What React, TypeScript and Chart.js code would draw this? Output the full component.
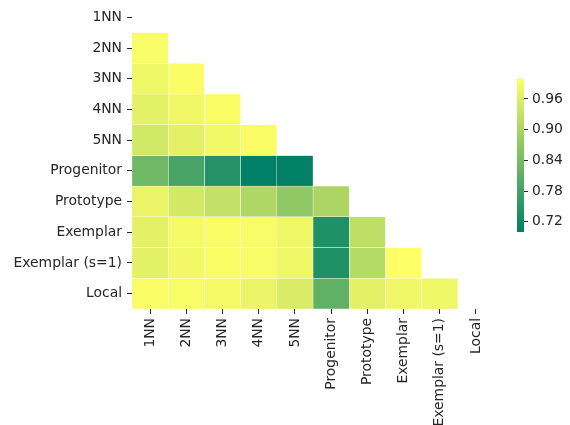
import React, { useEffect, useRef } from "react";
import { Chart, registerables } from "chart.js";
Chart.register(...registerables);

const labels = ["1NN", "2NN", "3NN", "4NN", "5NN", "Progenitor", "Prototype", "Exemplar", "Exemplar (s=1)", "Local"];
const row1NN: number[] = [];
const row2NN = [0.992];
const row3NN = [0.98, 0.996];
const row4NN = [0.966, 0.982, 0.994];
const row5NN = [0.945, 0.968, 0.985, 0.994];
const rowProgenitor = [0.832, 0.785, 0.742, 0.7, 0.701];
const rowPrototype = [0.975, 0.947, 0.929, 0.906, 0.871, 0.902];
const rowExemplar = [0.968, 0.988, 0.994, 0.992, 0.982, 0.738, 0.924];
const rowExemplarS1 = [0.966, 0.986, 0.994, 0.992, 0.982, 0.738, 0.914, 1.0];
const rowLocal = [0.994, 0.992, 0.987, 0.975, 0.956, 0.813, 0.968, 0.982, 0.98];
const colorTicks = [0.72, 0.78, 0.84, 0.9, 0.96];
const vMin = 0.7;
const vMax = 1.0;

const rows = [row1NN, row2NN, row3NN, row4NN, row5NN, rowProgenitor, rowPrototype, rowExemplar, rowExemplarS1, rowLocal];

const FONT = "'DejaVu Sans', sans-serif";
const TEXT = "#262626";
const FS = 13.9;

function summer(v: number): string {
  let t = (v - vMin) / (vMax - vMin);
  t = Math.max(0, Math.min(1, t));
  const r = Math.round(255 * t);
  const g = Math.round(127.5 + 127.5 * t);
  return `rgb(${r},${g},102)`;
}

export default function App() {
  const mainRef = useRef<HTMLCanvasElement>(null);
  const barRef = useRef<HTMLCanvasElement>(null);

  useEffect(() => {
    document.body.style.margin = "0";
    const datasets = labels.slice(0, labels.length - 1).map((_, j) => ({
      data: rows.map((row) => (j < row.length ? [j, j + 1] : null)) as any,
      backgroundColor: rows.map((row) => (j < row.length ? summer(row[j]) : "rgba(0,0,0,0)")),
      borderColor: "#ffffff",
      borderWidth: 0.5,
      borderSkipped: false as any,
      barPercentage: 1,
      categoryPercentage: 1,
      grouped: false,
    }));

    const main = new Chart(mainRef.current!, {
      type: "bar",
      data: { labels, datasets },
      options: {
        indexAxis: "y",
        animation: false,
        responsive: false,
        devicePixelRatio: 1,
        layout: { padding: { top: 2, right: 76, left: 0, bottom: 0 } },
        plugins: { legend: { display: false }, tooltip: { enabled: false } },
        scales: {
          x: {
            type: "linear",
            min: 0,
            max: 10,
            afterBuildTicks: (scale: any) => {
              scale.ticks = labels.map((_, i) => ({ value: i + 0.5 }));
            },
            afterFit: (scale: any) => {
              scale.height = 116;
              scale.paddingLeft = 0;
              scale.paddingRight = 0;
            },
            ticks: {
              autoSkip: false,
              minRotation: 90,
              maxRotation: 90,
              padding: 4,
              color: TEXT,
              font: { family: FONT, size: FS },
              callback: (v: any) => labels[Math.floor(Number(v))],
            },
            grid: { drawOnChartArea: false, drawTicks: true, tickLength: 5, color: TEXT, lineWidth: 1 },
            border: { display: false },
          },
          y: {
            type: "category",
            afterFit: (scale: any) => {
              scale.width = 132;
              scale.paddingTop = 0;
              scale.paddingBottom = 0;
            },
            ticks: {
              autoSkip: false,
              padding: 5,
              color: TEXT,
              font: { family: FONT, size: FS },
            },
            grid: { offset: false, drawOnChartArea: false, drawTicks: true, tickLength: 5, color: TEXT, lineWidth: 1 },
            border: { display: false },
          },
        },
      },
    });

    const bar = new Chart(barRef.current!, {
      type: "bar",
      data: {
        labels: ["cb"],
        datasets: [
          {
            data: [[vMin, vMax]] as any,
            backgroundColor: (ctx: any) => {
              const area = ctx.chart.chartArea;
              if (!area) return summer(0.85);
              const g = ctx.chart.ctx.createLinearGradient(0, area.bottom, 0, area.top);
              g.addColorStop(0, summer(vMin));
              g.addColorStop(1, summer(vMax));
              return g;
            },
            borderWidth: 0,
            barPercentage: 1,
            categoryPercentage: 1,
          },
        ],
      },
      options: {
        animation: false,
        responsive: false,
        devicePixelRatio: 1,
        layout: { padding: { left: 7, top: 8.5, bottom: 8, right: 0 } },
        plugins: { legend: { display: false }, tooltip: { enabled: false } },
        scales: {
          x: { display: false },
          y: {
            position: "right",
            min: vMin,
            max: vMax,
            afterBuildTicks: (scale: any) => {
              scale.ticks = colorTicks.map((v) => ({ value: v }));
            },
            afterFit: (scale: any) => {
              scale.width = 46;
              scale.paddingTop = 0;
              scale.paddingBottom = 0;
            },
            ticks: {
              padding: 4,
              color: TEXT,
              font: { family: FONT, size: FS },
              callback: (v: any) => Number(v).toFixed(2),
            },
            grid: { drawOnChartArea: false, drawTicks: true, tickLength: 4, color: TEXT, lineWidth: 1 },
            border: { display: false },
          },
        },
      },
    });

    return () => {
      main.destroy();
      bar.destroy();
    };
  }, []);

  return (
    <div style={{ position: "fixed", left: 0, top: 0, width: 570, height: 425, background: "#fff" }}>
      <canvas ref={mainRef} width={570} height={425} style={{ position: "absolute", left: 0, top: 0 }} />
      <canvas ref={barRef} width={60} height={170} style={{ position: "absolute", left: 510, top: 70 }} />
    </div>
  );
}
